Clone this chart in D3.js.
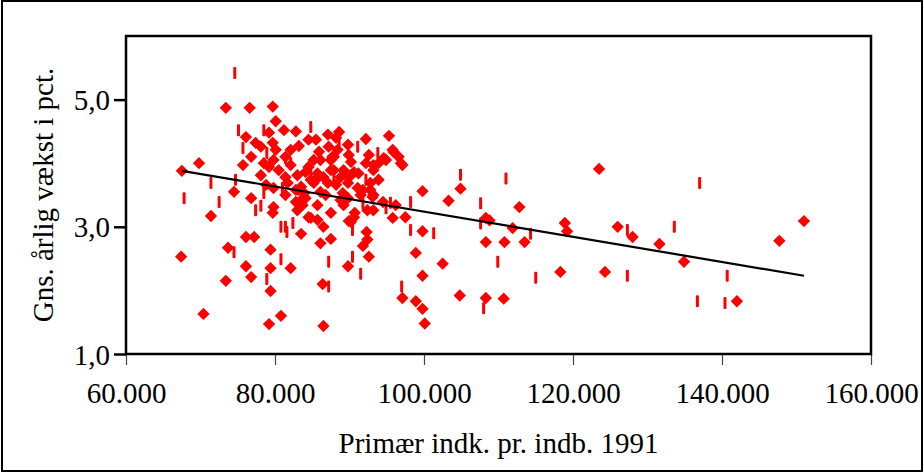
<!DOCTYPE html>
<html>
<head>
<meta charset="utf-8">
<script src="https://cdn.jsdelivr.net/npm/d3@7"></script>
<style>
  html, body { margin: 0; padding: 0; background: #fff; }
  svg { display: block; font-family: "Liberation Serif", "Times New Roman", serif; }
</style>
</head>
<body>
<svg id="chart" width="924" height="473"></svg>
<script>
// income in 1000 kr (x) and average yearly growth in pct (y)
const diamondX = [67.5,67.4,69.8,70.4,71.4,73.4,73.4,73.7,74.5,76.6,79.7,80.1,76.1,77.4,75.7,76.8,78.1,78.5,76.1,77.2,76.1,76.8,76.8,79.4,79.4,79.4,79.2,80.8,82.1,83.5,79.7,79.8,83.0,84.5,85.7,83.7,84.8,82.8,84.1,82.8,79.2,83.2,84.5,85.5,87.1,88.2,88.6,87.2,79.7,79.8,81.4,83.0,84.5,86.1,87.7,88.4,87.5,85.5,86.5,88.8,80.5,79.2,81.7,83.5,79.8,83.1,81.4,85.2,85.9,87.9,89.9,93.2,94.6,96.9,95.9,90.6,87.9,85.7,84.1,89.8,87.1,85.2,83.9,86.1,89.1,91.8,92.2,95.3,95.8,96.6,97.1,89.8,92.6,92.2,93.9,94.9,90.2,89.2,90.2,91.2,92.8,93.2,89.8,89.2,91.1,92.8,93.2,92.4,90.6,90.2,92.3,92.4,91.8,92.6,89.8,94.5,95.8,96.2,97.5,93.1,93.2,90.7,89.9,87.5,86.5,86.1,87.5,86.4,86.5,97.1,98.9,99.8,100.1,98.9,99.8,102.5,99.8,99.8,103.3,104.9,104.8,108.3,110.7,108.3,108.8,108.3,110.8,111.9,112.8,113.5,118.3,118.9,119.2,123.5,124.3,126.0,128.0,131.6,134.9,142.0,147.7,151.0,
  82.1,84.8,82.8,86.8,88.2,89.5,87.5,82.1,83.5,81.4,88.8,85.7,91.5,93.9,81.2,80.1,78.1,78.8];
const diamondY = [3.88,2.53,4.0,1.63,3.17,4.87,2.15,2.67,3.55,4.87,4.89,4.66,4.41,4.32,3.97,4.1,4.26,4.0,2.84,2.84,2.38,2.21,3.45,2.64,2.35,1.99,1.47,1.6,2.35,2.89,3.22,3.31,3.26,3.15,3.11,3.34,3.14,3.39,3.45,4.5,4.48,4.27,4.37,4.37,4.45,4.4,4.49,4.26,4.32,4.05,4.1,3.81,3.94,4.05,4.1,4.21,3.89,3.74,3.78,3.78,3.89,3.94,3.69,3.63,3.61,3.58,3.78,4.05,4.18,4.1,4.13,3.97,4.08,4.0,4.18,3.86,3.89,3.84,3.86,3.69,3.69,3.69,3.53,3.55,3.53,3.58,4.38,4.43,4.21,4.1,3.97,4.29,4.13,4.0,4.0,4.05,4.02,3.89,3.81,3.84,3.69,3.89,3.45,3.34,3.61,3.58,3.5,3.26,3.15,3.08,2.92,2.8,2.7,2.53,2.38,3.39,3.14,3.34,3.15,3.47,3.26,3.22,3.09,3.22,3.0,2.74,2.81,2.1,1.44,1.88,1.83,1.71,1.48,2.59,2.23,2.42,2.93,3.56,3.41,3.6,1.92,1.88,1.87,3.14,3.1,2.76,2.76,2.98,3.31,2.76,2.29,3.06,2.93,3.91,2.29,3.0,2.84,2.73,2.45,1.83,2.78,3.09,
  3.97,3.74,3.58,3.5,3.66,3.81,4.05,4.21,3.42,3.5,3.42,3.34,3.5,3.74,4.52,4.21,3.81,3.66];

const dashX = [67.8,71.4,72.5,74.6,75.1,75.7,78.5,78.9,74.5,77.4,78.1,78.9,80.8,80.8,81.4,82.4,81.6,84.8,81.4,82.1,84.8,87.9,92.2,91.1,93.8,74.7,78.5,81.0,87.2,87.2,90.4,91.5,90.4,91.8,94.9,98.2,98.2,97.0,101.3,104.9,111.0,107.6,107.6,109.9,114.3,115.0,108.0,127.3,127.3,133.6,137.0,136.7,140.7,140.4,88.6,95.5];
const dashY = [3.45,3.69,3.39,5.42,4.52,4.24,4.52,4.16,2.6,3.26,3.33,2.18,2.49,3.0,3.0,3.06,2.92,4.57,4.08,4.0,3.89,3.77,3.74,4.26,4.16,3.74,3.53,3.61,2.45,2.06,2.53,2.26,2.95,3.37,3.29,3.39,2.95,2.06,2.9,3.82,3.76,3.37,3.05,2.45,2.89,2.2,1.72,2.95,2.23,3.0,3.69,1.83,2.23,1.8,4.35,3.38];

// linear trend, end points
const trendX = [67.5, 151.0];
const trendY = [3.88, 2.23];

const xTicks = [60, 80, 100, 120, 140, 160];
const xTickLabels = ['60.000', '80.000', '100.000', '120.000', '140.000', '160.000'];
const yTicks = [1, 3, 5];
const yTickLabels = ['1,0', '3,0', '5,0'];

const xTitle = 'Primær indk. pr. indb. 1991';
const yTitle = 'Gns. årlig vækst i pct.';

const width = 924;
const height = 473;
const marginLeft = 126;
const marginRight = 53;
const marginTop = 36;
const marginBottom = 119;
const red = '#ff0000';

const svg = d3.select('#chart');

// outer frame
svg.append('rect')
  .attr('x', 2).attr('y', 1)
  .attr('width', width - 4).attr('height', height - 3)
  .attr('fill', '#fff')
  .attr('stroke', '#000')
  .attr('stroke-width', 2);

const x = d3.scaleLinear()
  .domain([60, 160])
  .range([marginLeft, width - marginRight]);

const y = d3.scaleLinear()
  .domain([1, 6])
  .range([height - marginBottom, marginTop]);

// x axis: thin ticks pointing down, labels below
const xAxis = d3.axisBottom(x)
  .tickValues(xTicks)
  .tickSize(11)
  .tickPadding(10)
  .tickFormat((d, i) => xTickLabels[i]);

const gx = svg.append('g')
  .attr('transform', `translate(0, ${y(1)})`)
  .call(xAxis);
gx.select('.domain').remove();
gx.selectAll('.tick line').attr('stroke', '#444').attr('stroke-width', 1.2);
gx.selectAll('.tick text')
  .attr('font-size', 29)
  .attr('font-family', '"Liberation Serif", serif')
  .attr('fill', '#000')
  .attr('dy', '0.95em');

// y axis: heavier ticks pointing left
const yAxis = d3.axisLeft(y)
  .tickValues(yTicks)
  .tickSize(12)
  .tickPadding(4)
  .tickFormat((d, i) => yTickLabels[i]);

const gy = svg.append('g')
  .attr('transform', `translate(${x(60)}, 0)`)
  .call(yAxis);
gy.select('.domain').remove();
gy.selectAll('.tick line').attr('stroke', '#000').attr('stroke-width', 2.5);
gy.selectAll('.tick text')
  .attr('font-size', 29)
  .attr('font-family', '"Liberation Serif", serif')
  .attr('fill', '#000')
  .attr('dy', '0.35em');

// dashes
svg.append('g')
  .attr('fill', red)
  .selectAll('rect')
  .data(dashX.map((d, i) => [d, dashY[i]]))
  .join('rect')
  .attr('x', d => x(d[0]) - 1.5)
  .attr('y', d => y(d[1]) - 6)
  .attr('width', 3)
  .attr('height', 12)
  .attr('rx', 1);

// diamonds
const diamond = d3.symbol(d3.symbolSquare, 76);
svg.append('g')
  .attr('fill', red)
  .selectAll('path')
  .data(diamondX.map((d, i) => [d, diamondY[i]]))
  .join('path')
  .attr('d', diamond)
  .attr('transform', d => `translate(${x(d[0])}, ${y(d[1])}) rotate(45)`);

// trend line
svg.append('path')
  .datum(trendX.map((d, i) => [d, trendY[i]]))
  .attr('fill', 'none')
  .attr('stroke', '#000')
  .attr('stroke-width', 2.2)
  .attr('d', d3.line().x(d => x(d[0])).y(d => y(d[1])));

// plot area frame
svg.append('rect')
  .attr('x', x(60)).attr('y', y(6))
  .attr('width', x(160) - x(60))
  .attr('height', y(1) - y(6))
  .attr('fill', 'none')
  .attr('stroke', '#000')
  .attr('stroke-width', 2.5);

// titles
svg.append('text')
  .attr('x', (x(60) + x(160)) / 2)
  .attr('y', 453)
  .attr('text-anchor', 'middle')
  .attr('font-size', 29)
  .text(xTitle);

svg.append('text')
  .attr('transform', `translate(53, ${(y(1) + y(6)) / 2}) rotate(-90)`)
  .attr('text-anchor', 'middle')
  .attr('font-size', 29)
  .text(yTitle);
</script>
</body>
</html>
